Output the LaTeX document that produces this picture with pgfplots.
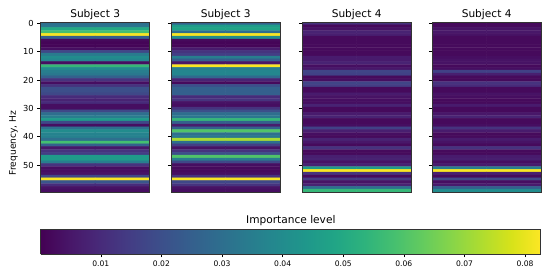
\documentclass[border=0pt]{standalone}
\usepackage{pgfplots}
\pgfplotsset{compat=1.18}
\usepackage{fontspec}
\setmainfont{DejaVu Sans}
\pgfplotsset{
 panel/.style={scale only axis, anchor=south west, width=108.7bp, height=170bp,
  xmin=-0.5,xmax=1.5,ymin=-0.5,ymax=59.5,y dir=reverse,
  xtick=\empty,ytick={0,10,20,30,40,50},
  colormap/viridis,point meta min=0.0001,point meta max=0.0826,
  tick style={black,line width=0.7bp},tick align=outside,major tick length=3.5bp,
  axis line style={line width=0.8bp,black!80},
  ytick pos=left,
  title style={font=\fontsize{10.6bp}{12bp}\selectfont,yshift=-7bp},
  yticklabel style={font=\fontsize{8.3bp}{10bp}\selectfont},
  /pgf/number format/assume math mode=true,
  axis on top},
 mp/.style={matrix plot*,mesh/cols=2,point meta=explicit,forget plot}
}
\begin{document}
\begin{tikzpicture}
\path[use as bounding box] (0bp,0bp) rectangle (550bp,273bp);
\begin{axis}[panel,at={(40.8bp,81bp)},title={Subject 3},ylabel={Frequency, Hz},
 ylabel style={font=\fontsize{9.1bp}{10bp}\selectfont,yshift=-1.5bp,xshift=-36bp}]
\addplot[mp] coordinates {
(0,0)[.03](1,0)[.03]
(0,1)[.032](1,1)[.032]
(0,2)[.05](1,2)[.05]
(0,3)[.058](1,3)[.058]
(0,4)[.082](1,4)[.082]
(0,5)[.025](1,5)[.025]
(0,6)[.002](1,6)[.002]
(0,7)[.001](1,7)[.001]
(0,8)[.001](1,8)[.001]
(0,9)[.003](1,9)[.003]
(0,10)[.018](1,10)[.018]
(0,11)[.034](1,11)[.034]
(0,12)[.04](1,12)[.04]
(0,13)[.038](1,13)[.038]
(0,14)[.003](1,14)[.003]
(0,15)[.055](1,15)[.055]
(0,16)[.04](1,16)[.04]
(0,17)[.035](1,17)[.035]
(0,18)[.033](1,18)[.033]
(0,19)[.025](1,19)[.025]
(0,20)[.012](1,20)[.012]
(0,21)[.003](1,21)[.003]
(0,22)[.012](1,22)[.012]
(0,23)[.02](1,23)[.02]
(0,24)[.02](1,24)[.02]
(0,25)[.018](1,25)[.018]
(0,26)[.01](1,26)[.01]
(0,27)[.008](1,27)[.008]
(0,28)[.01](1,28)[.01]
(0,29)[.003](1,29)[.003]
(0,30)[.003](1,30)[.003]
(0,31)[.018](1,31)[.018]
(0,32)[.03](1,32)[.03]
(0,33)[.035](1,33)[.035]
(0,34)[.045](1,34)[.045]
(0,35)[.018](1,35)[.018]
(0,36)[.003](1,36)[.003]
(0,37)[.03](1,37)[.03]
(0,38)[.04](1,38)[.04]
(0,39)[.037](1,39)[.037]
(0,40)[.036](1,40)[.036]
(0,41)[.03](1,41)[.03]
(0,42)[.058](1,42)[.058]
(0,43)[.025](1,43)[.025]
(0,44)[.005](1,44)[.005]
(0,45)[.012](1,45)[.012]
(0,46)[.015](1,46)[.015]
(0,47)[.045](1,47)[.045]
(0,48)[.045](1,48)[.045]
(0,49)[.035](1,49)[.035]
(0,50)[.012](1,50)[.012]
(0,51)[.003](1,51)[.003]
(0,52)[.003](1,52)[.003]
(0,53)[.004](1,53)[.004]
(0,54)[.018](1,54)[.018]
(0,55)[.082](1,55)[.082]
(0,56)[.022](1,56)[.022]
(0,57)[.01](1,57)[.01]
(0,58)[.004](1,58)[.004]
(0,59)[.003](1,59)[.003]
};
\end{axis}
\begin{axis}[panel,at={(171.3bp,81bp)},title={Subject 3},yticklabels={}]
\addplot[mp] coordinates {
(0,0)[.025](1,0)[.025]
(0,1)[.045](1,1)[.045]
(0,2)[.048](1,2)[.048]
(0,3)[.03](1,3)[.03]
(0,4)[.082](1,4)[.082]
(0,5)[.04](1,5)[.04]
(0,6)[.002](1,6)[.002]
(0,7)[.001](1,7)[.001]
(0,8)[.001](1,8)[.001]
(0,9)[.006](1,9)[.006]
(0,10)[.012](1,10)[.012]
(0,11)[.015](1,11)[.015]
(0,12)[.035](1,12)[.035]
(0,13)[.025](1,13)[.025]
(0,14)[.005](1,14)[.005]
(0,15)[.082](1,15)[.082]
(0,16)[.035](1,16)[.035]
(0,17)[.038](1,17)[.038]
(0,18)[.038](1,18)[.038]
(0,19)[.028](1,19)[.028]
(0,20)[.008](1,20)[.008]
(0,21)[.002](1,21)[.002]
(0,22)[.02](1,22)[.02]
(0,23)[.025](1,23)[.025]
(0,24)[.025](1,24)[.025]
(0,25)[.025](1,25)[.025]
(0,26)[.01](1,26)[.01]
(0,27)[.012](1,27)[.012]
(0,28)[.004](1,28)[.004]
(0,29)[.003](1,29)[.003]
(0,30)[.012](1,30)[.012]
(0,31)[.02](1,31)[.02]
(0,32)[.03](1,32)[.03]
(0,33)[.033](1,33)[.033]
(0,34)[.055](1,34)[.055]
(0,35)[.025](1,35)[.025]
(0,36)[.006](1,36)[.006]
(0,37)[.025](1,37)[.025]
(0,38)[.06](1,38)[.06]
(0,39)[.03](1,39)[.03]
(0,40)[.033](1,40)[.033]
(0,41)[.072](1,41)[.072]
(0,42)[.03](1,42)[.03]
(0,43)[.015](1,43)[.015]
(0,44)[.004](1,44)[.004]
(0,45)[.012](1,45)[.012]
(0,46)[.02](1,46)[.02]
(0,47)[.06](1,47)[.06]
(0,48)[.035](1,48)[.035]
(0,49)[.018](1,49)[.018]
(0,50)[.003](1,50)[.003]
(0,51)[.002](1,51)[.002]
(0,52)[.002](1,52)[.002]
(0,53)[.003](1,53)[.003]
(0,54)[.012](1,54)[.012]
(0,55)[.082](1,55)[.082]
(0,56)[.018](1,56)[.018]
(0,57)[.012](1,57)[.012]
(0,58)[.004](1,58)[.004]
(0,59)[.003](1,59)[.003]
};
\end{axis}
\begin{axis}[panel,at={(302.3bp,81bp)},title={Subject 4},yticklabels={}]
\addplot[mp] coordinates {
(0,0)[.012](1,0)[.012]
(0,1)[.002](1,1)[.002]
(0,2)[.004](1,2)[.004]
(0,3)[.008](1,3)[.008]
(0,4)[.007](1,4)[.007]
(0,5)[.002](1,5)[.002]
(0,6)[.002](1,6)[.002]
(0,7)[.002](1,7)[.002]
(0,8)[.002](1,8)[.002]
(0,9)[.002](1,9)[.002]
(0,10)[.002](1,10)[.002]
(0,11)[.002](1,11)[.002]
(0,12)[.006](1,12)[.006]
(0,13)[.006](1,13)[.006]
(0,14)[.008](1,14)[.008]
(0,15)[.003](1,15)[.003]
(0,16)[.005](1,16)[.005]
(0,17)[.017](1,17)[.017]
(0,18)[.016](1,18)[.016]
(0,19)[.002](1,19)[.002]
(0,20)[.003](1,20)[.003]
(0,21)[.017](1,21)[.017]
(0,22)[.015](1,22)[.015]
(0,23)[.002](1,23)[.002]
(0,24)[.002](1,24)[.002]
(0,25)[.006](1,25)[.006]
(0,26)[.004](1,26)[.004]
(0,27)[.003](1,27)[.003]
(0,28)[.003](1,28)[.003]
(0,29)[.008](1,29)[.008]
(0,30)[.002](1,30)[.002]
(0,31)[.002](1,31)[.002]
(0,32)[.006](1,32)[.006]
(0,33)[.008](1,33)[.008]
(0,34)[.002](1,34)[.002]
(0,35)[.002](1,35)[.002]
(0,36)[.003](1,36)[.003]
(0,37)[.016](1,37)[.016]
(0,38)[.007](1,38)[.007]
(0,39)[.003](1,39)[.003]
(0,40)[.002](1,40)[.002]
(0,41)[.008](1,41)[.008]
(0,42)[.005](1,42)[.005]
(0,43)[.002](1,43)[.002]
(0,44)[.012](1,44)[.012]
(0,45)[.002](1,45)[.002]
(0,46)[.002](1,46)[.002]
(0,47)[.007](1,47)[.007]
(0,48)[.008](1,48)[.008]
(0,49)[.004](1,49)[.004]
(0,50)[.008](1,50)[.008]
(0,51)[.045](1,51)[.045]
(0,52)[.082](1,52)[.082]
(0,53)[.012](1,53)[.012]
(0,54)[.002](1,54)[.002]
(0,55)[.014](1,55)[.014]
(0,56)[.004](1,56)[.004]
(0,57)[.008](1,57)[.008]
(0,58)[.03](1,58)[.03]
(0,59)[.055](1,59)[.055]
};
\end{axis}
\begin{axis}[panel,at={(432.3bp,81bp)},title={Subject 4},yticklabels={}]
\addplot[mp] coordinates {
(0,0)[.002](1,0)[.002]
(0,1)[.002](1,1)[.002]
(0,2)[.004](1,2)[.004]
(0,3)[.005](1,3)[.005]
(0,4)[.004](1,4)[.004]
(0,5)[.002](1,5)[.002]
(0,6)[.002](1,6)[.002]
(0,7)[.002](1,7)[.002]
(0,8)[.002](1,8)[.002]
(0,9)[.002](1,9)[.002]
(0,10)[.002](1,10)[.002]
(0,11)[.002](1,11)[.002]
(0,12)[.003](1,12)[.003]
(0,13)[.004](1,13)[.004]
(0,14)[.004](1,14)[.004]
(0,15)[.002](1,15)[.002]
(0,16)[.003](1,16)[.003]
(0,17)[.016](1,17)[.016]
(0,18)[.007](1,18)[.007]
(0,19)[.002](1,19)[.002]
(0,20)[.002](1,20)[.002]
(0,21)[.012](1,21)[.012]
(0,22)[.01](1,22)[.01]
(0,23)[.002](1,23)[.002]
(0,24)[.002](1,24)[.002]
(0,25)[.004](1,25)[.004]
(0,26)[.003](1,26)[.003]
(0,27)[.002](1,27)[.002]
(0,28)[.002](1,28)[.002]
(0,29)[.006](1,29)[.006]
(0,30)[.002](1,30)[.002]
(0,31)[.002](1,31)[.002]
(0,32)[.005](1,32)[.005]
(0,33)[.008](1,33)[.008]
(0,34)[.002](1,34)[.002]
(0,35)[.002](1,35)[.002]
(0,36)[.003](1,36)[.003]
(0,37)[.012](1,37)[.012]
(0,38)[.006](1,38)[.006]
(0,39)[.002](1,39)[.002]
(0,40)[.002](1,40)[.002]
(0,41)[.006](1,41)[.006]
(0,42)[.004](1,42)[.004]
(0,43)[.002](1,43)[.002]
(0,44)[.012](1,44)[.012]
(0,45)[.002](1,45)[.002]
(0,46)[.002](1,46)[.002]
(0,47)[.006](1,47)[.006]
(0,48)[.007](1,48)[.007]
(0,49)[.003](1,49)[.003]
(0,50)[.006](1,50)[.006]
(0,51)[.035](1,51)[.035]
(0,52)[.082](1,52)[.082]
(0,53)[.007](1,53)[.007]
(0,54)[.002](1,54)[.002]
(0,55)[.018](1,55)[.018]
(0,56)[.003](1,56)[.003]
(0,57)[.006](1,57)[.006]
(0,58)[.025](1,58)[.025]
(0,59)[.04](1,59)[.04]
};
\end{axis}
% colour bar
\begin{axis}[scale only axis,anchor=south west,at={(40.8bp,19bp)},width=500bp,height=25bp,
 xmin=0.0001,xmax=0.0826,ymin=0,ymax=1,view={0}{90},
 ytick=\empty,xtick={0.01,0.02,0.03,0.04,0.05,0.06,0.07,0.08},
 xticklabels={0.01,0.02,0.03,0.04,0.05,0.06,0.07,0.08},
 scaled x ticks=false,
 xticklabel style={font=\fontsize{7.6bp}{9bp}\selectfont,yshift=0bp},
 xtick pos=bottom,tick align=outside,major tick length=3bp,
 tick style={black,line width=0.6bp},
 axis line style={line width=0.8bp,black!80},
 colormap/viridis,point meta min=0.0001,point meta max=0.0826,
 title={Importance level},
 title style={font=\fontsize{10.6bp}{12bp}\selectfont,yshift=-6.5bp},
 axis on top]
\addplot3[surf,shader=interp,mesh/rows=2,point meta=x,forget plot] coordinates {
(0.0001,0,0)(0.0826,0,0)
(0.0001,1,0)(0.0826,1,0)};
\end{axis}
\end{tikzpicture}
\end{document}
